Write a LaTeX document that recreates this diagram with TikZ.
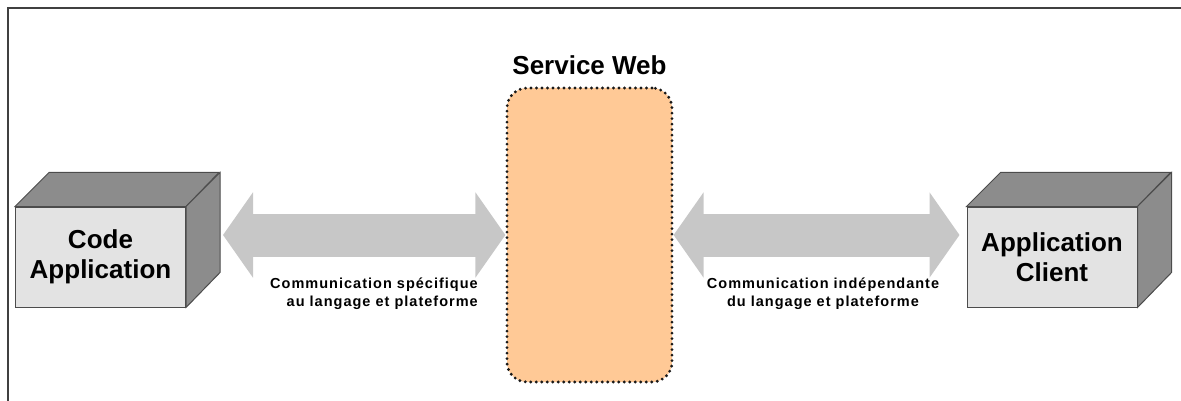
\documentclass[tikz,border=0pt]{standalone}
\usepackage{fontspec}
\setmainfont{Liberation Sans}
\newfontfamily\spaced[LetterSpace=7]{Liberation Sans}
\usetikzlibrary{positioning,arrows.meta}
\definecolor{peach}{RGB}{255,201,150}
\tikzstyle{frontface}=[draw=black!70,line width=1pt,fill=black!11,minimum width=170pt,minimum height=100pt,align=center,font=\bfseries\fontsize{26}{30}\selectfont]
\tikzstyle{depth}=[fill=black!45,draw=black!70,line width=1pt]
\tikzstyle{service}=[draw=black!90,fill=peach,line width=3.2pt,dash pattern=on 0pt off 5.5pt,line cap=round,rounded corners=20pt]
\tikzstyle{title}=[inner sep=0pt,font=\bfseries\fontsize{26}{30}\selectfont]
\tikzstyle{bigarrow}=[line width=43pt,black!22,{Triangle[length=30pt,width=84pt]}-{Triangle[length=30pt,width=84pt]}]
\tikzstyle{note}=[inner sep=0pt,font=\spaced\bfseries\fontsize{14.5}{18}\selectfont]

\begin{document}
\begin{tikzpicture}[x=1pt,y=-1pt]
  \useasboundingbox (0,0) rectangle (1181,401);
  \draw[line width=2pt,black!75] (8,401) -- (8,8) -- (1181,8);
  \node[frontface] (code) at (100.5,257) {Code\\Application};
  \node[frontface] (client) at (1052,257) {Application\\Client};
  \fill[depth] (code.north west) -- ++(34,-34) -- ++(170,0) -- (code.north east) -- cycle;
  \fill[depth] (code.north east) -- ++(34,-34) -- ++(0,100) -- (code.south east) -- cycle;
  \fill[depth] (client.north west) -- ++(34,-34) -- ++(170,0) -- (client.north east) -- cycle;
  \fill[depth] (client.north east) -- ++(34,-34) -- ++(0,100) -- (client.south east) -- cycle;
  \node[service,minimum width=165pt,minimum height=294pt] (ws) at (589.5,235) {};
  \node[title,above=11pt of ws] (wstitle) {Service Web};
  \draw[bigarrow] ([xshift=37pt]code.east |- ws.west) -- (ws.west);
  \draw[bigarrow] (ws.east) -- ([xshift=-7pt]client.west |- ws.east);
  \node[note,anchor=north east,align=right] (leftnote) at (478,277.5)
    {Communication spécifique\\au langage et plateforme};
  \node[note,anchor=north,align=center] (rightnote) at (823,277.5)
    {Communication indépendante\\du langage et plateforme};
\end{tikzpicture}
\end{document}
